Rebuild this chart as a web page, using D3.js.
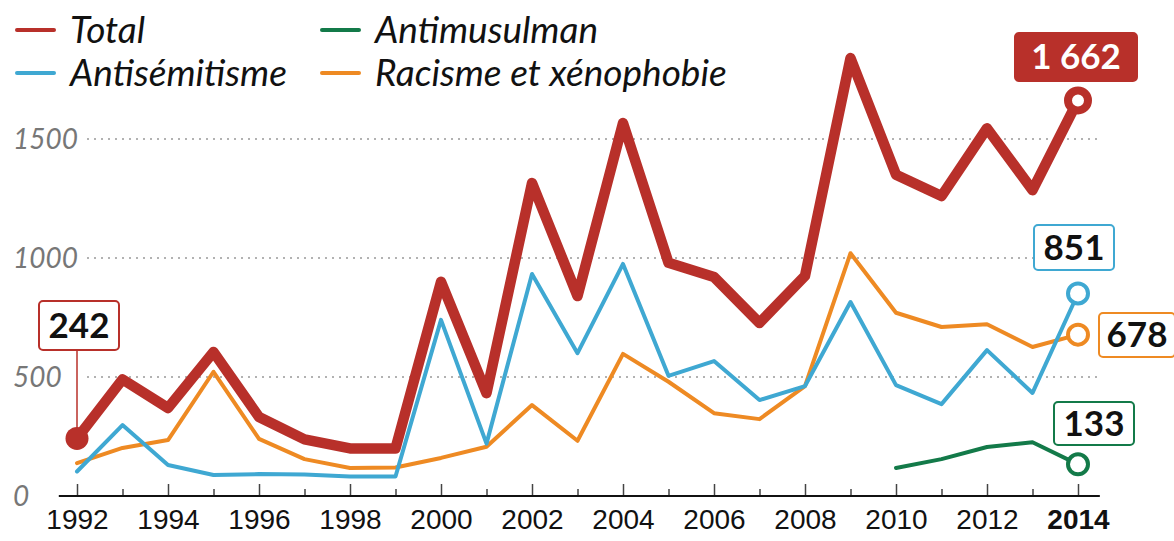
<!DOCTYPE html>
<html>
<head>
<meta charset="utf-8">
<script src="https://d3js.org/d3.v7.min.js"></script>
<style>
  body { margin: 0; background: #fff; }
  svg { display: block; font-family: Lato, "Open Sans", sans-serif; }
  .ylab { font-style: italic; fill: #777; font-size: 28px; }
  .xaxis text { font-size: 28px; fill: #111; }
  .legend text { font-style: italic; font-size: 37px; fill: #111; }
  .grid line { stroke: #999; stroke-width: 1.6; stroke-dasharray: 2 5; }
  .badge text { font-weight: bold; font-size: 35px; }
</style>
</head>
<body>
<div id="chart"></div>
<script>
// data (counts per year)
var years = d3.range(1992, 2015);
var total = [242, 490, 370, 605, 332, 238, 200, 200, 900, 432, 1315, 840, 1567, 980, 920, 727, 925, 1840, 1350, 1260, 1545, 1285, 1662];
var antisemitisme = [103, 298, 130, 88, 92, 90, 82, 82, 740, 220, 933, 600, 975, 505, 567, 403, 462, 815, 466, 386, 613, 433, 851];
var racisme = [138, 202, 235, 522, 240, 155, 118, 120, 160, 207, 382, 232, 597, 480, 348, 323, 462, 1020, 770, 710, 722, 626, 678];
var antimusulmanYears = [2010, 2011, 2012, 2013, 2014];
var antimusulman = [118, 155, 206, 226, 133];
var yTicks = [0, 500, 1000, 1500];

var W = 1174, H = 541;
var svg = d3.select("#chart").append("svg").attr("width", W).attr("height", H);

var x = d3.scaleLinear().domain([1992, 2014]).range([77, 1078]);
var y = d3.scaleLinear().domain([0, 1500]).range([496, 139]);

var col = { total: "#b8302a", anti: "#3fa8d2", rac: "#ee8a23", mus: "#137a49" };

// gridlines
svg.append("g").attr("class", "grid")
  .selectAll("line").data(yTicks.filter(function(d) { return d > 0; }))
  .enter().append("line")
  .attr("x1", 87).attr("x2", 1100)
  .attr("y1", function(d) { return y(d); }).attr("y2", function(d) { return y(d); });

svg.append("g").selectAll("text").data(yTicks).enter().append("text")
  .attr("class", "ylab")
  .attr("x", 13)
  .attr("y", function(d) { return y(d) + 10; })
  .text(function(d) { return d; });

// x axis
var xAxis = svg.append("g").attr("class", "xaxis")
  .attr("transform", "translate(0," + y(0) + ")")
  .call(d3.axisBottom(x).tickValues(years).tickSizeInner(-12).tickSizeOuter(0).tickFormat(d3.format("d")));
xAxis.select(".domain").remove();
xAxis.append("line").attr("x1", x(1991.6)).attr("x2", x(2014.48))
  .attr("stroke", "#111").attr("stroke-width", 2.2);
xAxis.selectAll(".tick line").attr("stroke", "#444").attr("stroke-width", 1.5)
  .attr("y2", function(d) { return d % 2 === 0 ? -12 : -7; });
xAxis.selectAll(".tick text")
  .attr("y", 13)
  .style("display", function(d) { return d % 2 === 0 ? null : "none"; })
  .style("font-weight", function(d) { return d === 2014 ? "bold" : null; })
  .attr("font-family", null).attr("font-size", null);

var line = d3.line().x(function(d) { return x(d[0]); }).y(function(d) { return y(d[1]); });
function pairs(xs, vs) { return xs.map(function(yr, i) { return [yr, vs[i]]; }); }

function series(xs, vs, c, w) {
  svg.append("path").datum(pairs(xs, vs))
    .attr("fill", "none").attr("stroke", c).attr("stroke-width", w)
    .attr("stroke-linejoin", "round").attr("stroke-linecap", "round")
    .attr("d", line);
}
series(years, racisme, col.rac, 4);
series(years, antisemitisme, col.anti, 4);
series(antimusulmanYears, antimusulman, col.mus, 4);
series(years, total, col.total, 10.5);

// end circles
function endDot(v, c, sw) {
  svg.append("circle").attr("cx", x(2014)).attr("cy", y(v)).attr("r", 10)
    .attr("fill", "#fff").attr("stroke", c).attr("stroke-width", sw);
}
endDot(racisme[racisme.length - 1], col.rac, 4);
endDot(antisemitisme[antisemitisme.length - 1], col.anti, 4);
endDot(antimusulman[antimusulman.length - 1], col.mus, 4);
endDot(total[total.length - 1], col.total, 8);

// start point for total
svg.append("line").attr("x1", x(1992)).attr("x2", x(1992))
  .attr("y1", 350).attr("y2", y(total[0])).attr("stroke", col.total).attr("stroke-width", 1.5);
svg.append("circle").attr("cx", x(1992)).attr("cy", y(total[0])).attr("r", 11.5).attr("fill", col.total);

// badges
function badge(cx, cy, w, h, txt, c, filled) {
  var g = svg.append("g").attr("class", "badge");
  g.append("rect").attr("x", cx - w / 2).attr("y", cy - h / 2).attr("width", w).attr("height", h)
    .attr("rx", 4).attr("fill", filled ? c : "#fff").attr("stroke", c).attr("stroke-width", 2);
  g.append("text").attr("x", cx).attr("y", cy + 12).attr("text-anchor", "middle")
    .attr("fill", filled ? "#fff" : "#111").text(txt);
}
badge(79, 325.5, 80, 49, total[0], col.total, false);
badge(1076, 57, 122, 48, "1 662", col.total, true);
badge(1074, 247.5, 80, 45, antisemitisme[antisemitisme.length - 1], col.anti, false);
badge(1137, 335, 76, 44, racisme[racisme.length - 1], col.rac, false);
badge(1094, 423.5, 80, 43, antimusulman[antimusulman.length - 1], col.mus, false);

// legend
var legendItems = [
  { name: "Total", c: col.total, lx: 17, ly: 30 },
  { name: "Antisémitisme", c: col.anti, lx: 17, ly: 73 },
  { name: "Antimusulman", c: col.mus, lx: 322, ly: 30 },
  { name: "Racisme et xénophobie", c: col.rac, lx: 322, ly: 73 }
];
var lg = svg.append("g").attr("class", "legend").selectAll("g").data(legendItems).enter().append("g");
lg.append("line").attr("x1", function(d) { return d.lx; }).attr("x2", function(d) { return d.lx + 37; })
  .attr("y1", function(d) { return d.ly; }).attr("y2", function(d) { return d.ly; })
  .attr("stroke", function(d) { return d.c; }).attr("stroke-width", 4).attr("stroke-linecap", "round");
lg.append("text").attr("x", function(d) { return d.lx + 53; }).attr("y", function(d) { return d.ly + 13; })
  .text(function(d) { return d.name; });
</script>
</body>
</html>
